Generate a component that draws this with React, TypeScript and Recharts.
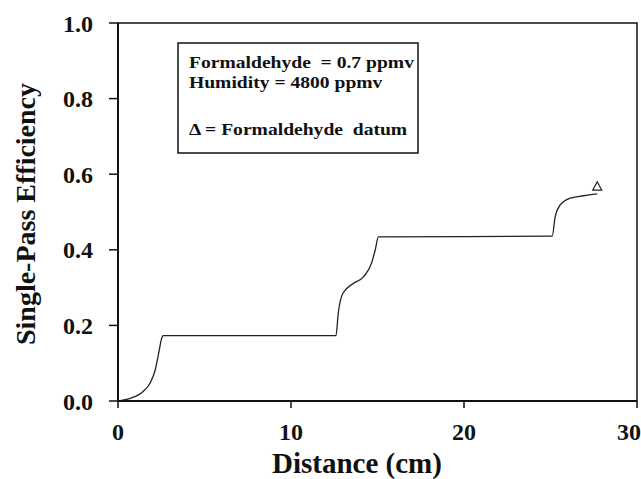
import React from "react";
import {
  ComposedChart,
  Line,
  Scatter,
  XAxis,
  YAxis,
  ReferenceArea,
} from "recharts";

// efficiency profile along the bed
const distance = [
  0, 0.7, 1.45, 1.85, 2.15, 2.35, 2.52, 2.6,
  12.6, 12.73, 13.0, 13.6, 14.2, 14.65, 14.87, 15.05,
  25.1, 25.27, 25.55, 26.1, 26.9, 27.7,
];
const efficiency = [
  0, 0.007, 0.025, 0.047, 0.082, 0.126, 0.165, 0.173,
  0.173, 0.232, 0.285, 0.311, 0.329, 0.364, 0.4, 0.434,
  0.436, 0.488, 0.518, 0.536, 0.543, 0.548,
];

const datumX = [27.7];
const datumY = [0.567];

const xTicks = [0, 10, 20, 30];
const yTicks = [0, 0.2, 0.4, 0.6, 0.8, 1.0];

const legendLines = [
  "Formaldehyde  = 0.7 ppmv",
  "Humidity = 4800 ppmv",
  "",
  "\u0394 = Formaldehyde  datum",
];

const FONT = '"Liberation Serif", "Times New Roman", serif';

const profile = distance.map((x, i) => ({ x, y: efficiency[i] }));
const datum = datumX.map((x, i) => ({ x, y: datumY[i] }));

function Triangle(props: any) {
  const { cx, cy } = props;
  if (cx == null || cy == null) return null;
  return (
    <path
      d={`M${cx},${cy - 5} L${cx - 4.5},${cy + 3.5} L${cx + 4.5},${cy + 3.5} Z`}
      fill="none"
      stroke="#222"
      strokeWidth={1.2}
    />
  );
}

const tickStyle = { fill: "#111", fontFamily: FONT, fontWeight: 700, fontSize: 24 };

export default function App() {
  return (
    <div style={{ position: "relative", width: 641, height: 479, background: "#fff" }}>
      <style>{"body{margin:0}"}</style>
      <ComposedChart
        width={641}
        height={479}
        margin={{ top: 23, right: 4, left: 0, bottom: 0 }}
      >
        <XAxis
          type="number"
          dataKey="x"
          domain={[0, 30]}
          ticks={xTicks}
          allowDataOverflow
          height={78}
          tickSize={7}
          tickMargin={15}
          tick={tickStyle}
          axisLine={{ stroke: "#111", strokeWidth: 2 }}
          tickLine={{ stroke: "#111", strokeWidth: 1.5 }}
        />
        <YAxis
          type="number"
          dataKey="y"
          domain={[0, 1]}
          ticks={yTicks}
          width={118}
          tickSize={9}
          tickMargin={16}
          tickFormatter={(v: number) => v.toFixed(1)}
          tick={tickStyle}
          axisLine={{ stroke: "#111", strokeWidth: 2 }}
          tickLine={{ stroke: "#111", strokeWidth: 1.5 }}
        />
        <ReferenceArea
          x1={0}
          x2={30}
          y1={0}
          y2={1}
          fill="none"
          fillOpacity={0}
          stroke="#111"
          strokeWidth={1.5}
          ifOverflow="visible"
        />
        <Line
          data={profile}
          dataKey="y"
          type="monotone"
          stroke="#222"
          strokeWidth={1.3}
          dot={false}
          activeDot={false}
          isAnimationActive={false}
        />
        <Scatter
          data={datum}
          dataKey="y"
          shape={<Triangle />}
          isAnimationActive={false}
        />
      </ComposedChart>
      <svg
        width={641}
        height={479}
        style={{ position: "absolute", left: 0, top: 0, pointerEvents: "none" }}
      >
        <text
          x={357}
          y={473}
          textAnchor="middle"
          fontFamily={FONT}
          fontWeight={700}
          fontSize={29}
          fill="#111"
        >
          Distance (cm)
        </text>
        <text
          x={35}
          y={214}
          transform="rotate(-90 35 214)"
          textAnchor="middle"
          fontFamily={FONT}
          fontWeight={700}
          fontSize={28}
          fill="#111"
        >
          Single-Pass Efficiency
        </text>
        <rect x={178} y={43} width={240} height={110} fill="#fff" stroke="#111" strokeWidth={1.5} />
        {/* the legend type in the scan is slightly wider than it is tall */}
        <g transform="translate(189 0) scale(1.12 1)">
          {legendLines.map((line, i) => (
            <text
              key={i}
              x={0}
              y={[68, 88, 111, 135][i]}
              fontFamily={FONT}
              fontWeight={700}
              fontSize={17.5}
              fill="#111"
              style={{ whiteSpace: "pre" }}
            >
              {line}
            </text>
          ))}
        </g>
      </svg>
    </div>
  );
}
